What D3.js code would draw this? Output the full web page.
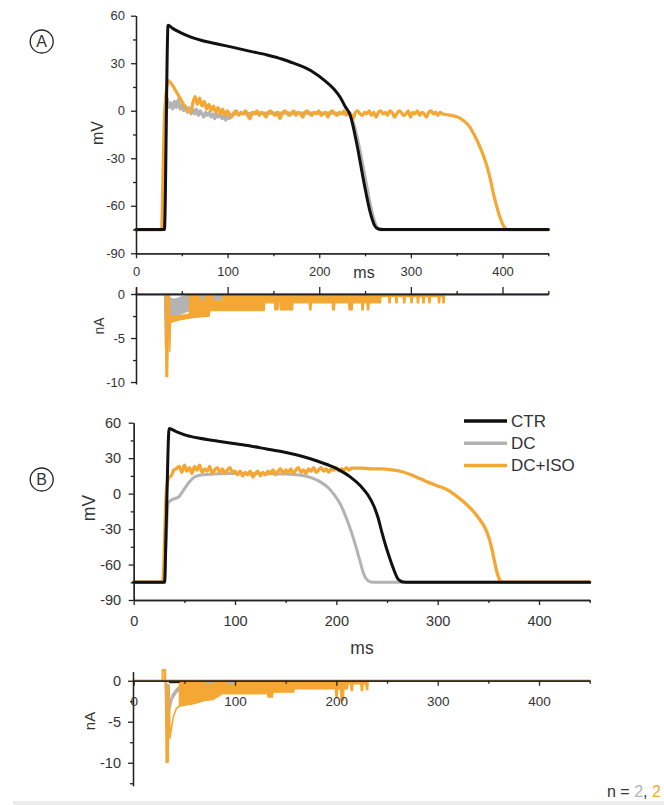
<!DOCTYPE html>
<html>
<head>
<meta charset="utf-8">
<script src="https://cdn.jsdelivr.net/npm/d3@7"></script>
<style>
body { margin: 0; background: #fff; }
text { font-family: "Liberation Sans", Arial, sans-serif; fill: #333; }
</style>
</head>
<body>
<svg id="chart" width="664" height="805"></svg>
<script>
const timeTicks = [0, 100, 200, 300, 400]
const timeMinor = [50, 150, 250, 350, 450]
const mvTicks = [60, 30, 0, -30, -60, -90]
const mvMinor = [45, 15, -15, -45, -75]
const naTicks = [0, -5, -10]
const naMinor = [-2.5, -7.5, -12.5]
const legendNames = ["CTR", "DC", "DC+ISO"]
const colors = ["#111111", "#b3b3b3", "#f5a733"]

// panel A, membrane potential [ms, mV]
const ctrVmA = [[0,-75],[31,-75],[35,54],[40,52],[48,49.5],[60,46.5],[70,44.7],[90,42],[106,40],[125,37.5],[143,35.2],[160,32.5],[172,30],[185,27],[194,24.2],[205,19.5],[216,13.7],[223,8.4],[228,3],[234,-3.2],[241,-21],[249,-46],[256,-65],[260,-72],[264,-74.5],[270,-75],[450,-75]]
const dcVmA = [[0,-75],[29.5,-75],[31,-35],[32.5,6],[34,8],[36,2],[38,5],[40,1],[42,6],[44,2],[46,7],[48,1],[50,4],[52,0],[54,3],[56,-1],[58,2],[60,-2],[62,1],[64,-2],[66,1],[68,-3],[70,0],[72,-2],[74,-4],[76,-1],[78,-3],[80,-1],[82,-4],[84,-2],[86,-5],[88,-2],[90,-4],[92,-2],[94,-5],[96,-3],[98,-6],[100,-3],[102,-5],[106,-2],[112,-2],[130,-1.5],[160,-1.5],[190,-1.5],[215,-1.5],[225,-1.8],[232,-2],[238,-9],[244,-24],[250,-42],[256,-60],[261,-71],[266,-75],[450,-75]]
const isoVmA = [[0,-75],[28,-75],[29.5,-40],[31,-5],[33,12],[35,19],[38,17.5],[42,14],[46,10],[50,6],[54,2],[57,0],[60,-1],[62,5],[64.5,9],[67,4],[69.5,8],[72,3],[74.5,6],[77,1],[79.5,4],[82,0],[84.5,3],[87,-1],[89.5,2],[92,-2],[94.5,1],[97,-3],[99.5,0],[102,-2],[104.5,-4],[107,-1],[109.5,0],[112,-3],[114.5,-1],[117,-2],[119.5,0],[122,-3],[124.5,-5],[127,-1],[129.5,-2],[132,0],[134.5,-3],[137,-1],[139.5,-2],[142,-4],[144.5,-1],[147,0],[149.5,-2],[152,-3],[154.5,-1],[157,-5],[159.5,-2],[162,0],[164.5,-1],[167,-3],[169.5,-2],[172,0],[174.5,-3],[177,-1],[179.5,-2],[182,-4],[184.5,-1],[187,0],[189.5,-2],[192,-3],[194.5,-1],[197,-2],[199.5,0],[202,-3],[204.5,-2],[207,-1],[209.5,-4],[212,-1],[214.5,0],[217,-2],[219.5,-3],[222,-1],[224.5,-2],[227,0],[229.5,-3],[232,-1],[234.5,-2],[237,-5],[239.5,-1],[242,0],[244.5,-2],[247,-3],[249.5,-1],[252,-2],[254.5,0],[257,-3],[259.5,-1],[262,-4],[264.5,-1],[267,0],[269.5,-2],[272,-1],[274.5,-3],[277,0],[279.5,-1],[282,-4],[284.5,-2],[287,0],[289.5,-1],[292,-3],[294.5,-2],[297,0],[299.5,-4],[302,-1],[304.5,-2],[307,0],[309.5,-3],[312,-1],[314.5,-2],[317,-4],[319.5,-1],[322,0],[324.5,-2],[327,-1],[329.5,-3],[332,-1],[335,-2],[340,-2.5],[346,-3.2],[352,-4.2],[358,-6.5],[364,-10],[369,-15],[374,-21],[379,-28],[383,-35],[387,-44],[390,-52],[393,-59],[396,-65],[399,-70],[402,-73.5],[406,-75],[450,-75]]

// panel A, current [ms, low nA, high nA]
const ctrNaA = [[0,0,0],[450,0,0]]
const dcNaA = [[0,0,0],[31,0,0],[32,-6,0],[33.5,-3.2,0],[38,-3,-0.5],[41,-2.8,-0.6],[45,-2.5,-0.5],[50,-2.2,-0.3],[55,-2,-0.2],[60,-1.8,-0.1],[62,-0.3,0],[69.5,0,0],[70,-0.7,0],[75,-0.7,0],[75.5,0,0],[84,0,0],[84.5,-0.7,0],[94,-0.7,0],[94.5,0,0],[450,0,0]]
const isoNaA = [[32,0,0],[32.6,-9.4,-0.2],[34.6,-9.4,-0.2],[35.6,-3.3,-2.6],[45,-3,-2.5],[55,-2.8,-2.3],[58,-2.75,-2.3],[58.5,-2.75,-0.1],[69.5,-2.6,-0.1],[70,-2.6,-0.8],[75,-2.55,-0.8],[75.5,-2.55,-0.1],[80,-2.5,-0.1],[80.5,-1.9,-0.1],[84,-1.9,-0.1],[84.5,-1.9,-0.8],[94,-1.9,-0.8],[94.5,-1.9,0],[140,-1.9,0],[140.5,-1,0],[151,-1,0],[151.5,-1.8,0],[155,-1.8,0],[155.5,-1,0],[157,-1,0],[157.5,-1.8,0],[171,-1.8,0],[171.5,-1,0],[189,-1,0],[189.5,-1.8,0],[191,-1.8,0],[191.5,-1,0],[214,-1,0],[214.5,-1.8,0],[216.5,-1.8,0],[217,-1,0],[232,-1,0],[232.5,-1.8,0],[236,-1.8,0],[236.5,-1,0],[246,-1,0],[246.5,-1.8,0],[248,-1.8,0],[248.5,-1,0],[252,-1,0],[252.5,-1.8,0],[254,-1.8,0],[254.5,-1,0],[267,-1,0],[267.5,-0.3,0],[275.5,-0.3,0],[276,-1,0],[277.5,-1,0],[278,-0.3,0],[283,-0.3,0],[283.5,-1,0],[285,-1,0],[285.5,-0.3,0],[291.5,-0.3,0],[292,-1,0],[293.5,-1,0],[294,-0.3,0],[299.5,-0.3,0],[300,-1,0],[301.5,-1,0],[302,-0.3,0],[306.5,-0.3,0],[307,-1,0],[308.5,-1,0],[309,-0.3,0],[312.5,-0.3,0],[313,-1,0],[314.5,-1,0],[315,-0.3,0],[319,-0.3,0],[319.5,-1,0],[321,-1,0],[321.5,-0.3,0],[329.5,-0.3,0],[330,-1,0],[331.5,-1,0],[332,-0.3,0],[334.5,-0.3,0],[335,-1,0],[336.5,-1,0],[337,0,0]]
const isoSpikeA = [[36.5,0],[37,-6.5],[37.6,-3]]

// panel B, membrane potential [ms, mV]
const ctrVmB = [[0,-75],[30.5,-75],[32,-30],[35,55],[42,52.5],[52,49.3],[65,46.8],[79,45],[95,42.8],[115,40.3],[130,38],[148,35.2],[165,31.8],[181,27.6],[194,23.5],[204,19.5],[214,14],[224,6.4],[231,-1],[237,-10.5],[241,-20],[245,-33],[249,-45],[253,-55.6],[257,-65],[261,-72.5],[266,-74.8],[272,-75],[450,-75]]
const dcVmB = [[0,-75],[30,-75],[32,-40],[34,-8],[38,-5],[44,-3],[50,4],[55,10],[60,14],[68,16],[100,17],[150,16.5],[165,15.5],[175,13.5],[185,9.5],[192,5],[198,-1],[204,-9],[210,-21],[215,-33],[219,-44],[223,-56],[227,-68],[231,-73.5],[236,-75],[450,-75]]
const isoVmB = [[0,-75],[28.5,-75],[30,-55],[31.5,-10],[33,8],[35,14],[37,15],[39.5,20],[42,21],[45,23],[47.5,18],[50,24],[52.5,19],[55,22],[57.5,17],[60,23],[62.5,20],[65,24],[67.5,18],[70,21],[72.5,19],[75,23],[77.5,17],[80,20],[82.5,22],[85,18],[87.5,21],[90,17],[92.5,20],[95,22],[97.5,18],[100,19],[102.5,16],[105,19],[107.5,15],[110,18],[112.5,16],[115,19],[117.5,14],[120,17],[122.5,19],[125,15],[127.5,18],[130,16],[132.5,19],[135,17],[137.5,20],[140,16],[142.5,19],[145,21],[147.5,17],[150,20],[152.5,18],[155,21],[157.5,17],[160,20],[162.5,22],[165,18],[167.5,20],[170,17],[172.5,21],[175,19],[177.5,22],[180,18],[182.5,20],[185,22],[187.5,19],[190,21],[192.5,18],[195,21],[197.5,20],[200,22],[202.5,19],[205,21],[207.5,20],[210,22],[212.5,20],[215,21.5],[225,21.5],[235,21],[245,21],[255,20],[265,18.5],[275,15.5],[283,12.5],[291,9.5],[300,6.5],[309,3.5],[317,-1],[325,-6.5],[333,-13],[339,-19],[344,-25],[348,-31.5],[351,-38.5],[353.5,-47],[355.5,-55],[357.5,-63],[359.5,-69.5],[361.5,-73.5],[364,-75],[450,-75]]

// panel B, current [ms, low nA, high nA]
const ctrNaB = [[0,0,0],[34,0,0],[36,-0.25,0],[50,-0.2,0],[58,0,0],[450,0,0]]
const dcNaB = [[0,0,0],[31,0,0],[32.5,-6,-0.3],[34,-7,-0.5],[35.5,-3.6,-2.6],[38,-2.3,-1.7],[42,-1.5,-1],[47,-0.9,-0.5],[53,-0.45,-0.1],[58,-0.2,0],[60,0,0],[70,0,0],[70.5,-0.6,0],[79,-0.6,0],[79.5,0,0],[91,0,0],[91.5,-0.6,0],[100,-0.6,0],[100.5,0,0],[450,0,0]]
const isoNaB = [[45,-3.1,-0.3],[50,-3,0],[60,-2.8,0],[70,-2.4,0],[70.5,-2.4,-0.5],[79,-2.3,-0.5],[79.5,-2.2,0],[85,-1.8,0],[87,-1.6,0],[91,-1.6,0],[91.5,-1.6,-0.5],[100,-1.6,-0.5],[100.5,-1.6,0],[132,-1.6,0],[132.5,-2,0],[137,-2,0],[137.5,-1.4,0],[158,-1.4,0],[158.5,-1,0],[199,-1,0],[199.5,-1.9,0],[201,-1.9,0],[201.5,-1,0],[204,-1,0],[204.5,-2.4,0],[207,-2.4,0],[207.5,-1,0],[211,-1,0],[211.5,-0.4,0],[214,-0.4,0],[214.5,-1.2,0],[216,-1.2,0],[216.5,-0.4,0],[224,-0.4,0],[224.5,-1.2,0],[226,-1.2,0],[226.5,-0.4,0],[229,-0.4,0],[229.5,-1.1,0],[231,-1.1,0],[231.5,0,0]]
const isoPulseB = [[28.5,0],[28.5,1.3],[31,1.3],[31,0]]
const isoSpikeB = [[31.5,0],[32.3,-9.9],[33.8,-9.9],[34.5,-1]]
const isoTailB = [[35,-0.5],[35.8,-7],[37,-6],[39,-4.5],[42,-3.4],[46,-3]]

const svg = d3.select("#chart")

// scales
const xA = d3.scaleLinear().domain([0, 450]).range([136, 548.3])
const yAv = d3.scaleLinear().domain([-90, 60]).range([253.3, 15.7])
const yAi = d3.scaleLinear().domain([-10.2, 0.8]).range([383.8, 287])
const xB = d3.scaleLinear().domain([0, 450]).range([133.7, 589.7])
const yBv = d3.scaleLinear().domain([-90, 60]).range([600, 422.7])
const yBi = d3.scaleLinear().domain([-12.8, 1.1]).range([785.7, 671.7])

const plainNum = d => String(d)

function styleAxis(g, size) {
    g.select(".domain").attr("stroke", "#222").attr("stroke-width", 1.3)
    g.selectAll(".tick line").attr("stroke", "#222").attr("stroke-width", 1.3)
    g.selectAll("text").style("font-size", size + "px").attr("fill", "#333")
}

function leftAxis(x0, y, major, minor, pad, size) {
    svg.append("g").attr("transform", `translate(${x0},0)`)
        .call(d3.axisLeft(y).tickValues(minor).tickSize(3).tickSizeOuter(0).tickFormat(""))
        .call(g => styleAxis(g, size))
    svg.append("g").attr("transform", `translate(${x0},0)`)
        .call(d3.axisLeft(y).tickValues(major).tickSize(5).tickSizeOuter(0).tickPadding(pad).tickFormat(plainNum))
        .call(g => styleAxis(g, size))
}

function timeAxis(y0, x, dir, pad, size, showLabels) {
    const maker = dir === "top" ? d3.axisTop : d3.axisBottom
    svg.append("g").attr("transform", `translate(0,${y0})`)
        .call(maker(x).tickValues(timeMinor).tickSize(3).tickSizeOuter(0).tickFormat(""))
        .call(g => styleAxis(g, size))
    svg.append("g").attr("transform", `translate(0,${y0})`)
        .call(maker(x).tickValues(timeTicks).tickSize(dir === "top" ? 7 : 5).tickSizeOuter(0)
            .tickPadding(pad).tickFormat(showLabels ? plainNum : ""))
        .call(g => styleAxis(g, size))
}

function drawLine(data, x, y, color, width, curve) {
    svg.append("path").datum(data)
        .attr("d", d3.line().x(d => x(d[0])).y(d => y(d[1])).curve(curve || d3.curveLinear))
        .attr("fill", "none").attr("stroke", color).attr("stroke-width", width)
        .attr("stroke-linejoin", "round").attr("stroke-linecap", "round")
}

function drawBand(data, x, y, color) {
    svg.append("path").datum(data)
        .attr("d", d3.area().x(d => x(d[0])).y0(d => y(d[1])).y1(d => y(d[2])))
        .attr("fill", color).attr("stroke", color).attr("stroke-width", 1.2)
        .attr("stroke-linejoin", "round")
}

function yTitle(label, cx, cy, size) {
    svg.append("text").attr("transform", `translate(${cx},${cy}) rotate(-90)`)
        .attr("text-anchor", "middle").attr("dominant-baseline", "central")
        .style("font-size", size + "px").text(label)
}

function panelMark(letter, cx, cy) {
    svg.append("circle").attr("cx", cx).attr("cy", cy).attr("r", 11.5)
        .attr("fill", "none").attr("stroke", "#222").attr("stroke-width", 1.3)
    svg.append("text").attr("x", cx).attr("y", cy + 5.6).attr("text-anchor", "middle")
        .style("font-size", "16px").attr("fill", "#222").text(letter)
}

const smooth = d3.curveMonotoneX

// ---- panel A, voltage
drawLine(dcVmA, xA, yAv, colors[1], 3.2, smooth)
drawLine(isoVmA, xA, yAv, colors[2], 3.2, smooth)
drawLine(ctrVmA, xA, yAv, colors[0], 3, smooth)
leftAxis(136, yAv, mvTicks, mvMinor, 6, 13)
timeAxis(253.3, xA, "bottom", 8, 13, true)
yTitle("mV", 97, 133, 16)
svg.append("text").attr("x", 364).attr("y", 278).attr("text-anchor", "middle")
    .style("font-size", "16px").text("ms")
panelMark("A", 41.7, 41.5)

// ---- panel A, current
drawLine(ctrNaA.map(d => [d[0], d[1]]), xA, yAi, colors[0], 2)
drawBand(dcNaA, xA, yAi, colors[1])
drawLine([[0, 0], [450, 0]], xA, yAi, colors[2], 2.2)
drawBand(isoNaA, xA, yAi, colors[2])
drawLine(isoSpikeA, xA, yAi, colors[2], 1.5)
leftAxis(136, yAi, naTicks, naMinor.slice(0, 2), 6, 13)
timeAxis(294, xA, "top", 3, 13, false)
yTitle("nA", 99, 326, 14)

// ---- panel B, voltage
drawLine(dcVmB, xB, yBv, colors[1], 3, smooth)
drawLine(isoVmB, xB, yBv, colors[2], 3.3, smooth)
drawLine(ctrVmB, xB, yBv, colors[0], 3, smooth)
leftAxis(133.7, yBv, mvTicks, mvMinor, 7.5, 14.5)
timeAxis(600, xB, "bottom", 10.5, 14.5, true)
yTitle("mV", 89, 508, 17.5)
svg.append("text").attr("x", 362).attr("y", 654).attr("text-anchor", "middle")
    .style("font-size", "17.5px").text("ms")
panelMark("B", 41.7, 479.5)

// legend
const legend = svg.append("g")
legendNames.forEach((name, i) => {
    const cy = 421 + i * 22.3
    legend.append("line").attr("x1", 464).attr("x2", 507).attr("y1", cy).attr("y2", cy)
        .attr("stroke", colors[i]).attr("stroke-width", 3.5)
    legend.append("text").attr("x", 511).attr("y", cy).attr("dominant-baseline", "central")
        .style("font-size", "17px").attr("fill", "#222").text(name)
})

// ---- panel B, current
drawBand(ctrNaB, xB, yBi, colors[0])
drawBand(dcNaB, xB, yBi, colors[1])
drawLine([[0, 0], [450, 0]], xB, yBi, colors[2], 2.2)
drawLine(isoPulseB, xB, yBi, colors[2], 2.2)
drawLine(isoSpikeB, xB, yBi, colors[2], 2)
drawLine(isoTailB, xB, yBi, colors[2], 1.6)
drawBand(isoNaB, xB, yBi, colors[2])
leftAxis(133, yBi, naTicks, naMinor, 7, 14.5)
timeAxis(680.7, xB, "bottom", 11, 13.5, true)
yTitle("nA", 89, 721, 15)

// n label and bottom strip
svg.append("rect").attr("x", 13).attr("y", 801).attr("width", 651).attr("height", 4).attr("fill", "#ececec")
const nLabel = svg.append("text").attr("x", 607).attr("y", 797).style("font-size", "16px")
nLabel.append("tspan").attr("fill", "#333").text("n = ")
nLabel.append("tspan").attr("fill", colors[1]).text("2")
nLabel.append("tspan").attr("fill", "#333").text(", ")
nLabel.append("tspan").attr("fill", colors[2]).text("2")
</script>
</body>
</html>
